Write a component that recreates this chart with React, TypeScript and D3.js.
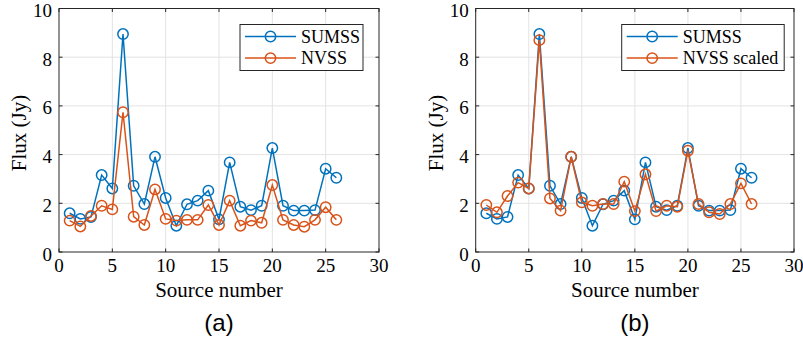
import React from 'react';
import * as d3 from 'd3';

const sourceNumbers = [1, 2, 3, 4, 5, 6, 7, 8, 9, 10, 11, 12, 13, 14, 15, 16, 17, 18, 19, 20, 21, 22, 23, 24, 25, 26];

const sumss = [1.59, 1.36, 1.44, 3.16, 2.61, 8.95, 2.72, 1.97, 3.91, 2.22, 1.08, 1.96, 2.11, 2.52, 1.34, 3.68, 1.86, 1.72, 1.9, 4.27, 1.9, 1.7, 1.7, 1.72, 3.42, 3.05];
const nvss = [1.29, 1.05, 1.48, 1.9, 1.75, 5.74, 1.45, 1.11, 2.57, 1.36, 1.29, 1.32, 1.32, 1.93, 1.11, 2.11, 1.08, 1.29, 1.2, 2.75, 1.32, 1.11, 1.04, 1.32, 1.84, 1.32];
const nvssScaled = [1.93, 1.63, 2.3, 2.85, 2.61, 8.7, 2.2, 1.7, 3.91, 2.04, 1.9, 1.97, 1.97, 2.89, 1.68, 3.19, 1.68, 1.9, 1.86, 4.16, 1.97, 1.63, 1.56, 1.97, 2.82, 1.97];

const xTicks = [0, 5, 10, 15, 20, 25, 30];
const yTicks = [0, 2, 4, 6, 8, 10];

const BLUE = '#0072BD';
const ORANGE = '#D95319';
const AXIS = '#262626';
const GRID = '#e3e3e3';
const serif = { fontFamily: 'Liberation Serif, Times New Roman, Times, serif' };
const sans = { fontFamily: 'Liberation Sans, Arial, Helvetica, sans-serif' };

type Series = { name: string; values: number[]; color: string };

const Panel = ({ left, right, series, caption, legX, legendWidth }: {
  left: number; right: number; series: Series[]; caption: string; legX: number; legendWidth: number;
}) => {
  const top = 8.5;
  const bottom = 252;
  const x = d3.scaleLinear().domain([0, 30]).range([left, right]);
  const y = d3.scaleLinear().domain([0, 10]).range([bottom, top]);
  const line = d3.line<number>()
    .x((d, i) => x(sourceNumbers[i]))
    .y(d => y(d));
  const tick = 3.5;
  const legY = 24.5;

  return (
    <g>
      {/* grid */}
      {xTicks.slice(1, -1).map(t => (
        <line key={'gx' + t} x1={x(t)} x2={x(t)} y1={top} y2={bottom} stroke={GRID} strokeWidth={1} />
      ))}
      {yTicks.slice(1, -1).map(t => (
        <line key={'gy' + t} x1={left} x2={right} y1={y(t)} y2={y(t)} stroke={GRID} strokeWidth={1} />
      ))}

      {/* series */}
      {series.map(s => (
        <g key={s.name}>
          <path d={line(s.values) || ''} fill="none" stroke={s.color} strokeWidth={1.5} />
          {s.values.map((v, i) => (
            <circle key={i} cx={x(sourceNumbers[i])} cy={y(v)} r={5.2} fill="none" stroke={s.color} strokeWidth={1.5} />
          ))}
        </g>
      ))}

      {/* box and ticks */}
      <rect x={left} y={top} width={right - left} height={bottom - top} fill="none" stroke={AXIS} strokeWidth={1} />
      {xTicks.map(t => (
        <g key={'tx' + t}>
          <line x1={x(t)} x2={x(t)} y1={bottom} y2={bottom - tick} stroke={AXIS} />
          <line x1={x(t)} x2={x(t)} y1={top} y2={top + tick} stroke={AXIS} />
          <text x={x(t)} y={272} textAnchor="middle" style={serif} fontSize={19} fill="#000">{t}</text>
        </g>
      ))}
      {yTicks.map(t => (
        <g key={'ty' + t}>
          <line x1={left} x2={left + tick} y1={y(t)} y2={y(t)} stroke={AXIS} />
          <line x1={right} x2={right - tick} y1={y(t)} y2={y(t)} stroke={AXIS} />
          <text x={left - 7} y={y(t) + 8.5} textAnchor="end" style={serif} fontSize={19} fill="#000">{t}</text>
        </g>
      ))}

      {/* labels */}
      <text x={(left + right) / 2} y={297} textAnchor="middle" style={serif} fontSize={21} fill="#000">Source number</text>
      <text transform={`translate(${left - 33},133) rotate(-90)`} textAnchor="middle" style={serif} fontSize={21} fill="#000">Flux (Jy)</text>
      <text x={(left + right) / 2} y={331} textAnchor="middle" style={sans} fontSize={24} fill="#000">{caption}</text>

      {/* legend */}
      <rect x={legX} y={legY} width={legendWidth} height={46} fill="#fff" stroke={AXIS} strokeWidth={1} />
      {series.map((s, i) => {
        const ly = legY + 12 + i * 21.6;
        return (
          <g key={'leg' + s.name}>
            <line x1={legX + 5} x2={legX + 56} y1={ly} y2={ly} stroke={s.color} strokeWidth={1.5} />
            <circle cx={legX + 30.5} cy={ly} r={5.2} fill="none" stroke={s.color} strokeWidth={1.5} />
            <text x={legX + 61} y={ly + 6} style={serif} fontSize={18} fill="#000">{s.name}</text>
          </g>
        );
      })}
    </g>
  );
};

const App = () => {
  return (
    <svg width={803} height={343} style={{ position: 'absolute', left: 0, top: 0, background: '#fff' }}>
      <rect x={0} y={0} width={803} height={343} fill="#fff" />
      <Panel
        left={59}
        right={379}
        caption="(a)"
        legX={240}
        legendWidth={123}
        series={[
          { name: 'SUMSS', values: sumss, color: BLUE },
          { name: 'NVSS', values: nvss, color: ORANGE },
        ]}
      />
      <Panel
        left={475.7}
        right={794}
        caption="(b)"
        legX={621.7}
        legendWidth={162.5}
        series={[
          { name: 'SUMSS', values: sumss, color: BLUE },
          { name: 'NVSS scaled', values: nvssScaled, color: ORANGE },
        ]}
      />
    </svg>
  );
};

export default App;
